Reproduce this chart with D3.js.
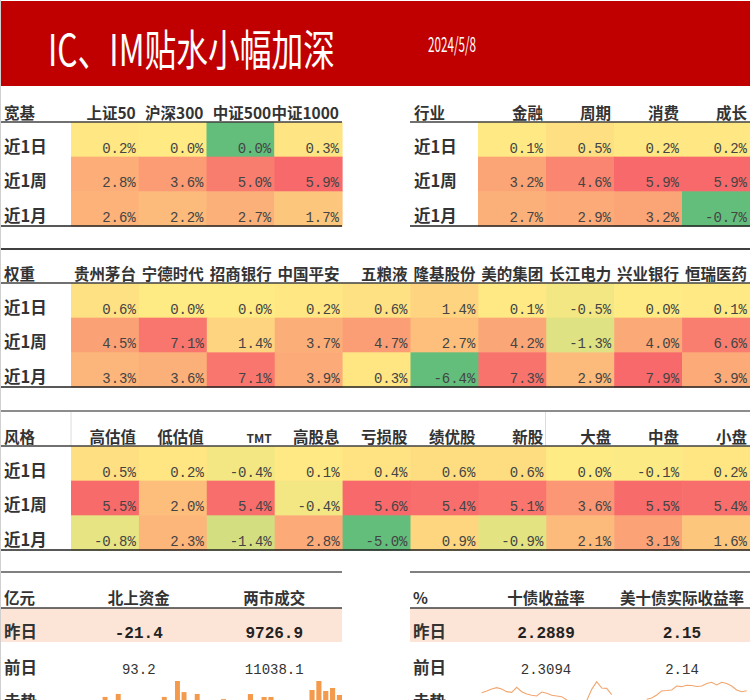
<!DOCTYPE html>
<html><head><meta charset="utf-8">
<script src="https://cdn.jsdelivr.net/npm/d3@7"></script>
<style>body{margin:0;background:#fff}svg{display:block}</style>
</head><body><div id="chart"></div>
<script>
// ---------- data ----------
const titleText = "IC、IM贴水小幅加深";
const dateText = "2024/5/8";
const periods = ["近1日", "近1周", "近1月"];

const broadCols = ["上证50", "沪深300", "中证500", "中证1000"];
const broad1d = [0.2, 0.04, -0.01, 0.3];
const broad1w = [2.8, 3.6, 5.0, 5.9];
const broad1m = [2.6, 2.2, 2.7, 1.7];

const sectorCols = ["金融", "周期", "消费", "成长"];
const sector1d = [0.1, 0.5, 0.2, 0.2];
const sector1w = [3.2, 4.6, 5.9, 5.9];
const sector1m = [2.7, 2.9, 3.2, -0.7];

const weightCols = ["贵州茅台", "宁德时代", "招商银行", "中国平安", "五粮液", "隆基股份", "美的集团", "长江电力", "兴业银行", "恒瑞医药"];
const weight1d = [0.6, 0.0, 0.0, 0.2, 0.6, 1.4, 0.1, -0.5, 0.0, 0.1];
const weight1w = [4.5, 7.1, 1.4, 3.7, 4.7, 2.7, 4.2, -1.3, 4.0, 6.6];
const weight1m = [3.3, 3.6, 7.1, 3.9, 0.3, -6.4, 7.3, 2.9, 7.9, 3.9];

const styleCols = ["高估值", "低估值", "TMT", "高股息", "亏损股", "绩优股", "新股", "大盘", "中盘", "小盘"];
const style1d = [0.5, 0.2, -0.4, 0.1, 0.4, 0.6, 0.6, 0.0, -0.1, 0.2];
const style1w = [5.5, 2.0, 5.4, -0.4, 5.6, 5.4, 5.1, 3.6, 5.5, 5.4];
const style1m = [-0.8, 2.3, -1.4, 2.8, -5.0, 0.9, -0.9, 2.1, 3.1, 1.6];

const flowCols = ["北上资金", "两市成交"];
const dayRows = ["昨日", "前日"];
const flowYesterday = [-21.4, 9726.9];
const flowPrevious = [93.2, 11038.1];

const bondCols = ["十债收益率", "美十债实际收益率"];
const bondYesterday = [2.2889, 2.15];
const bondPrevious = [2.3094, 2.14];
const bondDecimals = [4, 2];

const northTrend = [-30, 57, 25, 65, 12, -40, 30, -15, 20, 35, 57, 40, 100, 70, 28, 65, -25, 15, 38, 51];
const turnoverTrend = [8500, 9900, 8600, 9350, 9350, 8600, 8400, 8650, 8300, 8550, 10660, 12350, 10470, 11038.1, 9726.9];
const cgbTrend = [2.302, 2.307, 2.313, 2.317, 2.313, 2.305, 2.303, 2.318, 2.305, 2.298, 2.294, 2.292, 2.304, 2.300,
                  2.294, 2.292, 2.290, 2.280, 2.262, 2.248, 2.255, 2.278, 2.312, 2.335, 2.316, 2.315, 2.296];
const usRealTrend = [2.105, 2.115, 2.138, 2.168, 2.171, 2.175, 2.205, 2.200, 2.210, 2.209, 2.201,
                     2.205, 2.224, 2.233, 2.213, 2.233, 2.224, 2.205, 2.175, 2.162, 2.170];

// ---------- drawing ----------
const W = 750, H = 700;
const CJK = "'Noto Sans CJK SC', 'Noto Sans', sans-serif";
const MONO = "'Liberation Mono', 'DejaVu Sans Mono', monospace";
const svg = d3.select("#chart").append("svg").attr("width", W).attr("height", H);

// left border
svg.append("line").attr("x1", 0.5).attr("x2", 0.5).attr("y1", 0).attr("y2", H).attr("stroke", "#d0d0d0");

// header band
svg.append("rect").attr("x", 1).attr("y", 1).attr("width", W - 1).attr("height", 85).attr("fill", "#C00000");

function fittedText(txt, x, y, size, targetW) {
  const t = svg.append("text").attr("font-family", CJK).attr("font-size", size)
    .attr("fill", "#fff").text(txt);
  const natural = t.node().getComputedTextLength() || targetW;
  t.attr("transform", `translate(${x},${y}) scale(${targetW / natural},1)`);
  return t;
}
fittedText(titleText, 48, 66, 43, 287);
fittedText(dateText, 428, 52, 20, 48);

function fmtPct(v) {
  const r = Math.round(v * 10) / 10;
  const s = Math.abs(r).toFixed(1);
  return (r < 0 ? "-" : "") + s + "%";
}

function hline(y, x1, x2, color, w) {
  svg.append("line").attr("x1", x1).attr("x2", x2).attr("y1", y).attr("y2", y)
    .attr("stroke", color).attr("stroke-width", w);
}

function heat(cfg) {
  const vals = [cfg.d1, cfg.w1, cfg.m1];
  const g = svg.append("g");
  const x = d3.scaleBand().domain(cfg.cols).range([cfg.x0, cfg.x1]);
  const y = d3.scaleBand().domain(periods).range([cfg.top, cfg.bottom]);
  const flat = vals.flat();
  const color = d3.scaleLinear().domain([d3.min(flat), 0, d3.max(flat)])
    .range(["#63BE7B", "#FFEB84", "#F8696B"]);
  periods.forEach((p, ri) => {
    cfg.cols.forEach((c, ci) => {
      const v = vals[ri][ci];
      g.append("rect").attr("x", x(c)).attr("y", y(p)).attr("width", x.bandwidth() + 0.6)
        .attr("height", y.bandwidth() + 0.6).attr("fill", color(v));
      g.append("text").attr("x", x(c) + x.bandwidth() - 3).attr("y", y(p) + y.bandwidth() - 4)
        .attr("text-anchor", "end").attr("font-family", MONO).attr("font-size", 14)
        .attr("fill", "#444").text(fmtPct(v));
    });
    g.append("text").attr("x", cfg.labelX).attr("y", y(p) + y.bandwidth() - 4)
      .attr("font-family", CJK).attr("font-size", 16.5).attr("font-weight", "bold")
      .attr("fill", "#333").text(p);
  });
  cfg.cols.forEach(c => {
    g.append("text").attr("x", x(c) + x.bandwidth() - 3).attr("y", cfg.top - 3)
      .attr("text-anchor", "end").attr("font-family", CJK).attr("font-size", c === "TMT" ? 12 : 15.5)
      .attr("font-weight", "bold").attr("fill", "#333").text(c);
  });
  g.append("text").attr("x", cfg.labelX).attr("y", cfg.top - 3).attr("font-family", CJK)
    .attr("font-size", 15.5).attr("font-weight", "bold").attr("fill", "#333").text(cfg.name);
  hline(cfg.top, cfg.lx0, cfg.lx1, "#404040", 1.5);
  hline(cfg.bottom, cfg.lx0, cfg.lx1, "#202020", 1.5);
}

heat({name: "宽基", cols: broadCols, d1: broad1d, w1: broad1w, m1: broad1m,
  x0: 71, x1: 342, top: 122, bottom: 226, labelX: 4, lx0: 1, lx1: 342});
heat({name: "行业", cols: sectorCols, d1: sector1d, w1: sector1w, m1: sector1m,
  x0: 478, x1: 750, top: 122, bottom: 226, labelX: 414, lx0: 410, lx1: 750});

hline(249, 1, 750, "#404040", 2);
heat({name: "权重", cols: weightCols, d1: weight1d, w1: weight1w, m1: weight1m,
  x0: 71, x1: 750, top: 283, bottom: 387, labelX: 4, lx0: 1, lx1: 750});

hline(411, 1, 750, "#8c8c8c", 2);
svg.append("line").attr("x1", 71).attr("x2", 71).attr("y1", 412).attr("y2", 446).attr("stroke", "#dcdcdc");
svg.append("line").attr("x1", 545.5).attr("x2", 545.5).attr("y1", 412).attr("y2", 446).attr("stroke", "#dcdcdc");
heat({name: "风格", cols: styleCols, d1: style1d, w1: style1w, m1: style1m,
  x0: 71, x1: 750, top: 446, bottom: 550, labelX: 4, lx0: 1, lx1: 750});

// ---------- bottom tables ----------
function smallTable(cfg) {
  const g = svg.append("g");
  const x = d3.scaleBand().domain(cfg.cols).range([cfg.x0, cfg.x1]);
  hline(572, cfg.lx0, cfg.lx1, "#808080", 2);
  g.append("rect").attr("x", cfg.lx0).attr("y", 608).attr("width", cfg.lx1 - cfg.lx0).attr("height", 34)
    .attr("fill", "#FCE4D6");
  g.append("text").attr("x", cfg.labelX).attr("y", 604).attr("font-family", CJK).attr("font-size", 15.5)
    .attr("font-weight", "bold").attr("fill", "#333").text(cfg.name);
  cfg.cols.forEach((c, i) => {
    const cx = x(c) + x.bandwidth() / 2;
    g.append("text").attr("x", cx).attr("y", 604).attr("text-anchor", "middle").attr("font-family", CJK)
      .attr("font-size", 15.5).attr("font-weight", "bold").attr("fill", "#333").text(c);
    g.append("text").attr("x", cx).attr("y", 638).attr("text-anchor", "middle").attr("font-family", MONO)
      .attr("font-size", 16).attr("font-weight", "bold").attr("fill", "#222").text(cfg.fmt(cfg.yest[i], i));
    g.append("text").attr("x", cx).attr("y", 674).attr("text-anchor", "middle").attr("font-family", MONO)
      .attr("font-size", 14).attr("fill", "#333").text(cfg.fmt(cfg.prev[i], i));
  });
  [["昨日", 638], ["前日", 674], ["走势", 708]].forEach(([t, yy]) => {
    g.append("text").attr("x", cfg.labelX).attr("y", yy).attr("font-family", CJK).attr("font-size", 16.5)
      .attr("font-weight", "bold").attr("fill", "#333").text(t);
  });
  hline(608, cfg.lx0, cfg.lx1, "#404040", 1.5);
}

smallTable({name: "亿元", cols: flowCols, yest: flowYesterday, prev: flowPrevious, x0: 71, x1: 342,
  lx0: 1, lx1: 342, labelX: 4, fmt: v => (v < 0 ? "-" : "") + Math.abs(v).toFixed(1)});
smallTable({name: "%", cols: bondCols, yest: bondYesterday, prev: bondPrevious, x0: 478, x1: 750,
  lx0: 410, lx1: 750, labelX: 413, fmt: (v, i) => v.toFixed(bondDecimals[i])});

// sparkbars
const barColor = "#F39A4D";
function sparkBars(data, xr, domain) {
  const x = d3.scaleBand().domain(d3.range(data.length)).range(xr).paddingInner(0.25);
  const y = d3.scaleLinear().domain(domain).range([718, 681]);
  const base = y(Math.max(domain[0], 0));
  svg.append("g").selectAll("rect").data(data).join("rect")
    .attr("x", (d, i) => x(i)).attr("width", x.bandwidth())
    .attr("y", d => Math.min(y(d), base)).attr("height", d => Math.abs(base - y(d)))
    .attr("fill", barColor);
}
sparkBars(northTrend, [96, 226], [0, 100]);
sparkBars(turnoverTrend, [241, 342], [5400, 12350]);

// sparklines
const lineColor = "#F2A66E";
function sparkLine(data, xr, domain) {
  const x = d3.scaleLinear().domain([0, data.length - 1]).range(xr);
  const y = d3.scaleLinear().domain(domain).range([720, 680]);
  svg.append("path").datum(data).attr("fill", "none").attr("stroke", lineColor).attr("stroke-width", 1.1)
    .attr("d", d3.line().x((d, i) => x(i)).y(d => y(d)));
}
sparkLine(cgbTrend, [481.7, 611.7], [2.22, 2.34]);
sparkLine(usRealTrend, [646.7, 746.7], [1.95, 2.25]);
</script>
</body></html>
